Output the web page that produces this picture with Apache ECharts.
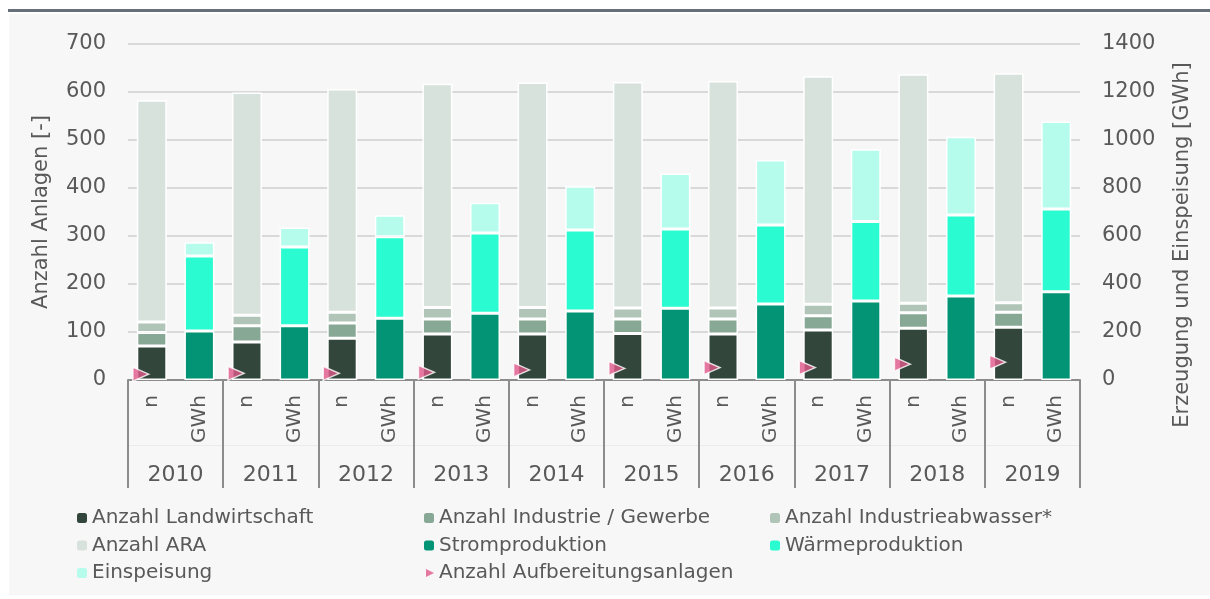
<!DOCTYPE html>
<html>
<head>
<meta charset="utf-8">
<script src="https://cdn.jsdelivr.net/npm/echarts@6/dist/echarts.min.js"></script>
<style>
  html, body { margin: 0; padding: 0; background: #ffffff; }
  #chart { width: 1210px; height: 599px; }
</style>
</head>
<body>
<div id="chart"></div>
<script>
// Jahre und Unterkategorien (n = Anzahl, GWh = Energie)
const years = ['2010', '2011', '2012', '2013', '2014', '2015', '2016', '2017', '2018', '2019'];
const subLabels = ['n', 'GWh'];

// Anzahl Anlagen (linke Achse)
const landwirtschaft = [71, 79, 87, 96, 96, 97, 96, 104, 108, 110];
const industrieGewerbe = [28, 34, 32, 31, 31, 30, 31, 30, 32, 31];
const industrieAbwasser = [22, 22, 22, 24, 24, 23, 23, 24, 20, 20];
const ara = [462, 464, 465, 466, 469, 471, 473, 475, 477, 478];
const aufbereitung = [12, 14, 14, 16, 21, 24, 26, 26, 33, 37];

// Erzeugung und Einspeisung in GWh (rechte Achse)
const strom = [204, 226, 257, 278, 288, 299, 317, 329, 350, 368];
const waerme = [313, 328, 340, 335, 337, 330, 329, 331, 338, 345];
const einspeisung = [57, 81, 89, 126, 182, 231, 271, 301, 326, 364];

const leftTicks = { min: 0, max: 700, interval: 100 };
const rightTicks = { min: 0, max: 1400, interval: 200 };

// Kategorien: n, GWh pro Jahr
const categories = [];
years.forEach(() => subLabels.forEach(s => categories.push(s)));
const onN = arr => arr.flatMap(v => [v, '-']);
const onGWh = arr => arr.flatMap(v => ['-', v]);

const textColor = '#595959';
const font = 'DejaVu Sans';

const myChart = echarts.init(document.getElementById('chart'));

function bar(name, data, color, yAxisIndex) {
  return {
    name: name,
    type: 'bar',
    stack: 'all',
    yAxisIndex: yAxisIndex,
    barWidth: 30,
    data: data,
    itemStyle: { color: color, borderColor: '#ffffff', borderWidth: 1.5 },
  };
}

const legendBase = {
  orient: 'vertical',
  padding: 0,
  itemWidth: 10,
  itemHeight: 10,
  itemGap: 7.5,
  top: 508,
  itemStyle: { borderWidth: 0 },
  textStyle: { color: textColor, fontSize: 20, fontFamily: font, lineHeight: 20 },
};

const option = {
  backgroundColor: '#ffffff',
  animation: false,
  graphic: [
    { type: 'rect', z: -100, silent: true, shape: { x: 9, y: 14, width: 1201, height: 581 }, style: { fill: '#f7f7f7' } },
    { type: 'rect', z: -100, silent: true, shape: { x: 8, y: 9, width: 1202, height: 3 }, style: { fill: '#67707a' } },
    {
      type: 'text', x: 42, y: 212, rotation: Math.PI / 2, silent: true,
      style: { text: 'Anzahl Anlagen [-]', fill: textColor, font: '21px "DejaVu Sans"', align: 'center', verticalAlign: 'middle' },
    },
    {
      type: 'text', x: 1183, y: 245, rotation: Math.PI / 2, silent: true,
      style: { text: 'Erzeugung und Einspeisung [GWh]', fill: textColor, font: '21px "DejaVu Sans"', align: 'center', verticalAlign: 'middle' },
    },
  ],
  legend: [
    Object.assign({}, legendBase, { left: 77, data: ['Anzahl Landwirtschaft', 'Anzahl ARA', 'Einspeisung'] }),
    Object.assign({}, legendBase, { left: 424, data: ['Anzahl Industrie / Gewerbe', 'Stromproduktion'] }),
    Object.assign({}, legendBase, {
      left: 426, top: 563, itemWidth: 8,
      data: [{ name: 'Anzahl Aufbereitungsanlagen', icon: 'path://M0,0L10,5L0,10Z' }],
    }),
    Object.assign({}, legendBase, { left: 770, data: ['Anzahl Industrieabwasser*', 'Wärmeproduktion'] }),
  ],
  grid: { left: 128, right: 130, top: 44, bottom: 219 },
  xAxis: [
    {
      type: 'category',
      data: categories,
      position: 'bottom',
      axisLine: { show: true, lineStyle: { color: '#8c8c8c', width: 2 } },
      axisTick: { show: false },
      axisLabel: { interval: 0, rotate: 90, margin: 15, color: textColor, fontSize: 20, fontFamily: font },
      splitLine: { show: false },
    },
    {
      type: 'category',
      data: years,
      position: 'bottom',
      axisLine: { show: false },
      axisTick: { show: true, length: 108, interval: 0, lineStyle: { color: '#8c8c8c', width: 2 } },
      axisLabel: { interval: 0, margin: 84, color: textColor, fontSize: 22, fontFamily: font },
      splitLine: { show: false },
    },
    {
      type: 'category',
      data: years,
      position: 'bottom',
      offset: 65,
      axisLine: { show: true, lineStyle: { color: '#ebebeb', width: 1 } },
      axisTick: { show: false },
      axisLabel: { show: false },
    },
  ],
  yAxis: [
    {
      type: 'value',
      min: leftTicks.min,
      max: leftTicks.max,
      interval: leftTicks.interval,
      axisLine: { show: false },
      axisTick: { show: false },
      axisLabel: { margin: 22, color: textColor, fontSize: 21, fontFamily: font, formatter: v => String(v) },
      splitLine: { lineStyle: { color: '#d9d9d9', width: 2 } },
    },
    {
      type: 'value',
      min: rightTicks.min,
      max: rightTicks.max,
      interval: rightTicks.interval,
      position: 'right',
      axisLine: { show: false },
      axisTick: { show: false },
      axisLabel: { margin: 22, color: textColor, fontSize: 21, fontFamily: font, formatter: v => String(v) },
      splitLine: { show: false },
    },
  ],
  series: [
    bar('Anzahl Landwirtschaft', onN(landwirtschaft), '#33463b', 0),
    bar('Anzahl Industrie / Gewerbe', onN(industrieGewerbe), '#88a896', 0),
    bar('Anzahl Industrieabwasser*', onN(industrieAbwasser), '#b0c4b8', 0),
    bar('Anzahl ARA', onN(ara), '#d8e2dd', 0),
    bar('Stromproduktion', onGWh(strom), '#029474', 1),
    bar('Wärmeproduktion', onGWh(waerme), '#2afbd1', 1),
    bar('Einspeisung', onGWh(einspeisung), '#b6fcec', 1),
    {
      name: 'Anzahl Aufbereitungsanlagen',
      type: 'scatter',
      yAxisIndex: 0,
      data: onN(aufbereitung),
      symbol: 'triangle',
      symbolRotate: -90,
      symbolSize: [14, 16],
      symbolOffset: [-11, 0],
      itemStyle: { color: '#e0588a', borderColor: '#ffffff', borderWidth: 1.5 },
      z: 5,
    },
  ],
};

myChart.setOption(option);
</script>
</body>
</html>
